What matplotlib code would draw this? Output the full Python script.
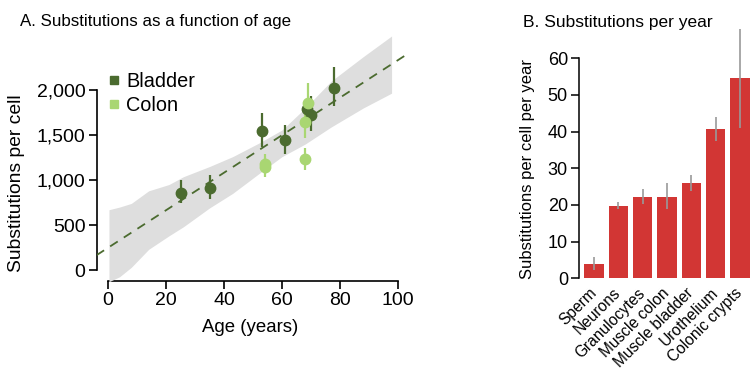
import numpy as np
import matplotlib.pyplot as plt
from matplotlib.lines import Line2D

plt.rcParams['font.family'] = ['Liberation Sans', 'DejaVu Sans']

# Panel A data: substitutions per cell vs donor age
bladder_age = [25, 35, 53, 61, 68.5, 70, 78]
bladder_subs = [860, 915, 1545, 1445, 1785, 1720, 2025]
bladder_lo = [745, 785, 1365, 1290, 1690, 1550, 1820]
bladder_hi = [1000, 1055, 1740, 1610, 1900, 1935, 2260]

colon_age = [54, 54.3, 68, 69, 68]
colon_subs = [1180, 1140, 1640, 1860, 1230]
colon_lo = [1070, 1030, 1463, 1685, 1111]
colon_hi = [1290, 1250, 1778, 2074, 1352]

# regression fit and its confidence band
fit_intercept = 248
fit_slope = 20.84
fit_range = [-4, 104]
band_age = [0.3, 4, 8, 14, 21, 26, 35, 43, 52, 60, 68, 77, 88, 97.8]
band_lo = [-130, -74, 30, 230, 380, 481, 690, 852, 1070, 1260, 1400, 1590, 1800, 1965]
band_hi = [670, 700, 740, 880, 950, 1037, 1150, 1260, 1410, 1556, 1800, 2100, 2370, 2600]

# Panel B data: substitutions per cell per year
tissues = ['Sperm', 'Neurons', 'Granulocytes', 'Muscle colon', 'Muscle bladder',
           'Urothelium', 'Colonic crypts']
rate = [3.9, 19.8, 22.1, 22.3, 26.0, 40.7, 54.5]
rate_lo = [2.4, 18.8, 20.3, 18.8, 23.9, 37.5, 41.1]
rate_hi = [5.7, 20.9, 24.4, 26.0, 28.2, 44.1, 67.9]

dark_green = '#4b6b2f'
light_green = '#a9d672'
bar_red = '#d23634'

fig = plt.figure(figsize=(7.51, 3.70), dpi=100)

# ---------------- Panel A ----------------
axA = fig.add_axes([0.1285, 0.2405, 0.4207, 0.6865])
axA.fill_between(band_age, band_lo, band_hi, color='#dedede', lw=0, zorder=2.6)
xs = np.array(fit_range)
axA.plot(xs, fit_intercept + fit_slope * xs, ls=(0, (5, 4)), color=dark_green,
         lw=1.3, zorder=3)


def draw_points(age, subs, lo, hi, color):
    age = np.array(age)
    subs = np.array(subs)
    yerr = [subs - np.array(lo), np.array(hi) - subs]
    axA.errorbar(age, subs, yerr=yerr, fmt='o', color=color, ms=7.5, elinewidth=1.6,
                 capsize=0, mec=color, zorder=4)


draw_points(bladder_age, bladder_subs, bladder_lo, bladder_hi, dark_green)
draw_points(colon_age, colon_subs, colon_lo, colon_hi, light_green)

axA.set_xlim(-4, 105)
axA.set_ylim(-122, 2700)
for s in ['top', 'right']:
    axA.spines[s].set_visible(False)
axA.spines['left'].set_bounds(0, 2000)
axA.spines['bottom'].set_bounds(0, 100)
axA.spines['left'].set_linewidth(1.2)
axA.spines['bottom'].set_linewidth(1.2)
axA.set_yticks([0, 500, 1000, 1500, 2000])
axA.set_yticklabels(['0', '500', '1,000', '1,500', '2,000'])
axA.set_xticks([0, 20, 40, 60, 80, 100])
axA.tick_params(labelsize=14, length=6, width=1.2, pad=2)
axA.set_xlabel('Age (years)', fontsize=13.4)
axA.set_ylabel('Substitutions per cell', fontsize=13.9)
axA.yaxis.set_label_coords(-0.226, 0.384)
axA.xaxis.set_label_coords(0.486, -0.15)

handles = [Line2D([], [], marker='s', ls='', color=dark_green, ms=6),
           Line2D([], [], marker='s', ls='', color=light_green, ms=6)]
axA.legend(handles, ['Bladder', 'Colon'], loc='upper left', bbox_to_anchor=(0.0, 0.855),
           frameon=False, fontsize=14.3, handletextpad=0.1, handlelength=1.0,
           borderaxespad=0, labelspacing=0.25)

fig.text(0.0266, 0.93, 'A. Substitutions as a function of age', fontsize=12.2,
         va='baseline')

# ---------------- Panel B ----------------
axB = fig.add_axes([0.771, 0.2478, 0.2277, 0.6937])
x = np.arange(len(tissues))
rate_arr = np.array(rate)
yerrB = [rate_arr - np.array(rate_lo), np.array(rate_hi) - rate_arr]
axB.bar(x, rate, width=0.8, color=bar_red, zorder=2)
axB.errorbar(x, rate, yerr=yerrB, fmt='none', ecolor='#999999', elinewidth=1.2,
             capsize=0, zorder=3)
axB.set_xlim(-0.62, 6.42)
axB.set_ylim(0, 70)
for s in ['top', 'right', 'bottom']:
    axB.spines[s].set_visible(False)
axB.spines['left'].set_bounds(0, 60)
axB.spines['left'].set_linewidth(1.1)
axB.set_yticks([0, 10, 20, 30, 40, 50, 60])
axB.tick_params(axis='y', labelsize=13, length=6, width=1.1, pad=2)
axB.set_xticks(x)
axB.set_xticklabels(tissues, rotation=45, ha='right', va='center', rotation_mode='anchor',
                    fontsize=11.2)
axB.tick_params(axis='x', length=0, pad=9)
axB.set_ylabel('Substitutions per cell per year', fontsize=12)
axB.yaxis.set_label_coords(-0.257, 0.426)

fig.text(0.696, 0.927, 'B. Substitutions per year', fontsize=12.5, va='baseline')

fig.savefig('out.png', dpi=100)
